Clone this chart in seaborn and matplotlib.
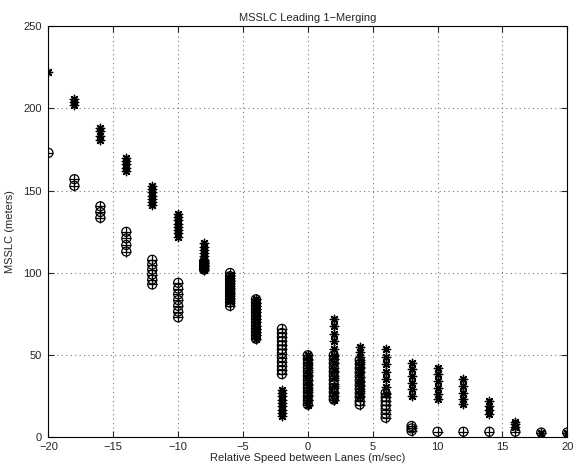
import numpy as np
import pandas as pd
import matplotlib
matplotlib.use('Agg')
import matplotlib.pyplot as plt
import seaborn as sns

# relative speed between lanes (m/sec)
speeds = [-20, -18, -16, -14, -12, -10, -8, -6, -4, -2,
          0, 2, 4, 6, 8, 10, 12, 14, 16, 18, 20]

# MSSLC values drawn as asterisks, one list per speed
star_vals = [
    [222],
    [206, 204, 202],
    [188, 186, 183.5, 181],
    [170, 168, 166, 164, 162],
    [153, 151, 149, 147, 145, 143, 141],
    [136, 134, 132, 130, 128, 126, 124, 122],
    [118, 116, 114, 112, 110, 108, 106, 104, 102],
    [99, 97, 95, 93, 91, 89, 87, 85, 83],
    [84, 82, 80, 78, 76, 74, 72, 70, 68, 66, 64, 62, 60],
    [29, 27, 25, 23, 21, 19, 17, 15, 13],
    [50, 47, 44, 41, 38, 35, 32, 29, 26, 23, 20],
    [72, 67.5, 63, 58.5, 54, 49.5, 45, 40.5, 36, 31.5, 27, 22.5],
    [55, 52, 49, 46, 43, 40, 37, 34, 31, 28, 25],
    [53.8, 49, 44.6, 39.8, 35.3, 30.7, 26.4],
    [45.5, 41.6, 37.4, 33.3, 29.5, 25.2],
    [42.5, 38.6, 34.4, 30.3, 26.5, 23.4],
    [35.6, 31.3, 27.3, 23.4, 20.4],
    [22, 19, 16.5, 14],
    [9.5, 8, 6.5],
    [3],
    [3],
]

# MSSLC values drawn as circled pluses, one list per speed
circle_vals = [
    [173],
    [157, 153],
    [140.5, 137, 133.5],
    [125, 121, 117, 113],
    [108, 105, 102, 99, 96, 93],
    [94, 90.5, 87, 83.5, 80, 76.5, 73],
    [107, 106, 105, 104, 103, 102],
    [100, 98, 96, 94, 92, 90, 88, 86, 84, 82, 80],
    [84, 82, 80, 78, 76, 74, 72, 70, 68, 66, 64, 62, 60],
    [66, 63.5, 61, 58.5, 56, 53.5, 51, 48.5, 46, 43.5, 41, 38.5],
    [50, 47.5, 45, 42.5, 40, 37.5, 35, 32.5, 30, 27.5, 25, 22.5, 20],
    [50, 47.5, 45, 42.5, 40, 37.5, 35, 32.5, 30, 27.5, 25, 23],
    [47, 44.5, 42, 39.5, 37, 34.5, 32, 29.5, 27, 24.5, 22, 20],
    [27, 24.5, 22, 19.5, 17, 14.5, 12],
    [7, 5.5, 4],
    [3.5],
    [3.5],
    [3.5],
    [3.5],
    [3],
    [3],
]

stars = pd.DataFrame([(s, v) for s, vs in zip(speeds, star_vals) for v in vs],
                     columns=['speed', 'msslc'])
circles = pd.DataFrame([(s, v) for s, vs in zip(speeds, circle_vals) for v in vs],
                       columns=['speed', 'msslc'])

sns.set_style('white')
plt.rcParams['font.family'] = ['Liberation Sans', 'DejaVu Sans']

fig = plt.figure(figsize=(5.77, 4.75), dpi=100)
ax = fig.add_axes([0.084, 0.079, 0.899, 0.866])

sns.scatterplot(data=circles, x='speed', y='msslc', ax=ax, marker='o',
                s=42, facecolor='none', edgecolor='black', linewidth=0.9)
sns.scatterplot(data=circles, x='speed', y='msslc', ax=ax, marker='+',
                s=42, color='black', linewidth=0.9)
sns.scatterplot(data=stars, x='speed', y='msslc', ax=ax, marker=(8, 2, 0),
                s=36, color='black', linewidth=1.0)

ax.set_xlim(-20, 20)
ax.set_ylim(0, 250)
ax.set_xticks(np.arange(-20, 21, 5))
ax.set_yticks(np.arange(0, 251, 50))
ax.grid(True, linestyle=(0, (1, 3)), color='#777777', linewidth=0.8)
ax.tick_params(direction='in', length=4, labelsize=8, top=True, right=True,
               bottom=True, left=True)
ax.tick_params(axis='x', pad=3)
ax.tick_params(axis='y', pad=5)
for sp in ax.spines.values():
    sp.set_color('black')
    sp.set_linewidth(0.8)

ax.set_title('MSSLC Leading 1\u2212Merging', fontsize=8, pad=4)
ax.set_xlabel('Relative Speed between Lanes (m/sec)', fontsize=8, labelpad=1)
ax.set_ylabel('MSSLC (meters)', fontsize=8, labelpad=6)
ax.xaxis.set_major_formatter(matplotlib.ticker.FuncFormatter(
    lambda v, p: f'{int(v)}'.replace('-', '\u2212')))

fig.savefig('out.png', dpi=100)
